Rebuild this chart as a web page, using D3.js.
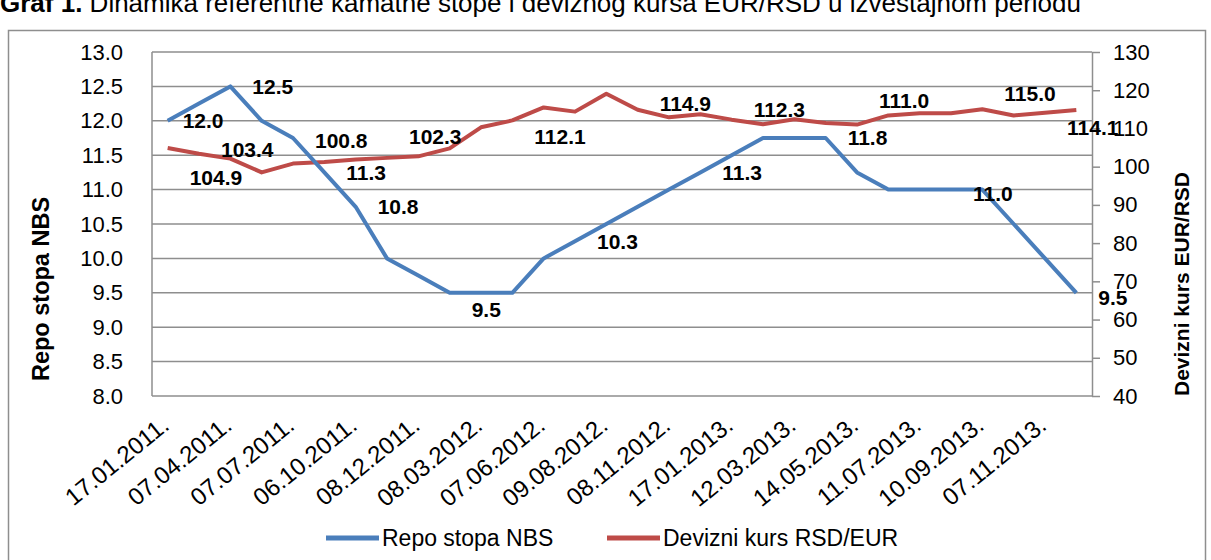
<!DOCTYPE html>
<meta charset="utf-8">
<style>
body { margin: 0; background: #fff; }
svg text { font-family: "Liberation Sans", Arial, sans-serif; fill: #000; }
.grid line { stroke: #8e8e8e; stroke-width: 1.5px; }
.axis path, .axis line { stroke: #8e8e8e; stroke-width: 1.5px; }
.axis text { font-size: 22px; }
.line { fill: none; stroke-width: 4px; stroke-linejoin: round; }
.lbl { font-size: 21px; font-weight: bold; }
</style>
<svg width="1211" height="560"></svg>
<script src="https://d3js.org/d3.v7.min.js"></script>
<script>

// dates of the observations (only every other one is written on the axis)
var dates = [
  "17.01.2011.", "10.02.2011.", "07.04.2011.", "09.06.2011.", "07.07.2011.",
  "11.08.2011.", "06.10.2011.", "10.11.2011.", "08.12.2011.", "12.01.2012.",
  "08.03.2012.", "10.05.2012.", "07.06.2012.", "12.07.2012.", "09.08.2012.",
  "11.10.2012.", "08.11.2012.", "13.12.2012.", "17.01.2013.", "07.02.2013.",
  "12.03.2013.", "09.04.2013.", "14.05.2013.", "06.06.2013.", "11.07.2013.",
  "08.08.2013.", "10.09.2013.", "10.10.2013.", "07.11.2013.", "10.12.2013."
];

// repo stopa NBS (%)
var repo = [12.0, 12.25, 12.5, 12.0, 11.75, 11.25, 10.75, 10.0, 9.75, 9.5,
            9.5, 9.5, 10.0, 10.25, 10.5, 10.75, 11.0, 11.25, 11.5, 11.75,
            11.75, 11.75, 11.25, 11.0, 11.0, 11.0, 11.0, 10.5, 10.0, 9.5];

// devizni kurs RSD/EUR
var kurs = [104.9, 103.4, 102.1, 98.5, 100.8, 101.2, 101.9, 102.3, 102.7, 104.8,
            110.3, 112.1, 115.5, 114.4, 119.1, 114.9, 112.9, 113.7, 112.3, 111.1,
            112.4, 111.4, 111.0, 113.4, 114.0, 114.0, 115.0, 113.4, 114.1, 114.8];

// which points carry a value label
var repoLabelIdx = [0, 2, 5, 6, 9, 13, 17, 21, 25, 29];
var kursLabelIdx = [0, 1, 4, 7, 11, 15, 18, 22, 26, 28];

var leftTicks = d3.range(8, 13.001, 0.5);
var rightTicks = d3.range(40, 131, 10);

// label placement tweaks (dy in px from the point)
var repoDy = {0: 0, 9: 17, 25: 4, 29: 5};
var kursDy = {0: 30, 1: -4, 4: -23, 7: -21, 11: 16, 15: -6, 18: -10, 22: -24, 26: -16, 28: 15};

var blue = "#4a7ebb", red = "#be4b48";

var svg = d3.select("svg"),
    plotL = 152, plotR = 1092, plotT = 52, plotB = 396;

var x = d3.scaleBand().domain(d3.range(dates.length)).range([plotL, plotR]),
    cx = function(i) { return x(i) + x.bandwidth() / 2; },
    yL = d3.scaleLinear().domain([8, 13]).range([plotB, plotT]),
    yR = d3.scaleLinear().domain([40, 130]).range([plotB, plotT]);

// title (cut off at the top like in the report)
var title = svg.append("text").attr("x", 0).attr("y", 12).style("font-size", "26px");
title.append("tspan").style("font-weight", "bold").text("Graf 1.");
title.append("tspan").text(" Dinamika referentne kamatne stope i deviznog kursa EUR/RSD u izveštajnom periodu");

// outer frame
svg.append("rect")
    .attr("x", 8.5).attr("y", 30.5).attr("width", 1197).attr("height", 560)
    .attr("fill", "none").attr("stroke", "#8e8e8e").attr("stroke-width", 1.5);

// gridlines
svg.append("g").attr("class", "grid")
  .selectAll("line").data(leftTicks).enter().append("line")
    .attr("x1", plotL).attr("x2", plotR)
    .attr("y1", function(d) { return yL(d); })
    .attr("y2", function(d) { return yL(d); });

// left axis
var ga = svg.append("g").attr("class", "axis")
    .attr("transform", "translate(" + plotL + ",0)")
    .call(d3.axisLeft(yL).tickValues(leftTicks).tickFormat(d3.format(".1f")).tickSize(0).tickPadding(29));
ga.select(".domain").remove();
svg.append("line")
    .attr("x1", plotL).attr("x2", plotL).attr("y1", plotT).attr("y2", plotB)
    .style("stroke", "#8e8e8e").style("stroke-width", 1.5);

// right axis
svg.append("g").attr("class", "axis")
    .attr("transform", "translate(" + plotR + ",0)")
    .call(d3.axisRight(yR).tickValues(rightTicks).tickSize(8).tickSizeOuter(0).tickPadding(13));

// category labels
svg.append("g").selectAll("text")
    .data(dates.map(function(d, i) { return {d: d, i: i}; }).filter(function(o) { return o.i % 2 === 0; }))
  .enter().append("text")
    .attr("transform", function(o) { return "translate(" + (cx(o.i) + 3) + "," + 428 + ") rotate(-39)"; })
    .attr("text-anchor", "end")
    .style("font-size", "24px")
    .text(function(o) { return o.d; });

// axis titles
svg.append("text")
    .attr("transform", "translate(49,289) rotate(-90)")
    .attr("text-anchor", "middle")
    .style("font-size", "23.5px").style("font-weight", "bold")
    .text("Repo stopa NBS");
svg.append("text")
    .attr("transform", "translate(1189,284) rotate(-90)")
    .attr("text-anchor", "middle")
    .style("font-size", "21px").style("font-weight", "bold")
    .text("Devizni kurs EUR/RSD");

// lines
var lineL = d3.line().x(function(d, i) { return cx(i); }).y(function(d) { return yL(d); });
var lineR = d3.line().x(function(d, i) { return cx(i); }).y(function(d) { return yR(d); });

svg.append("path").datum(kurs).attr("class", "line").attr("stroke", red).attr("d", lineR);
svg.append("path").datum(repo).attr("class", "line").attr("stroke", blue).attr("d", lineL);

// value labels
svg.append("g").selectAll("text").data(kursLabelIdx).enter().append("text")
    .attr("class", "lbl")
    .attr("x", function(i) { return cx(i) + 22; })
    .attr("y", function(i) { return yR(kurs[i]) + (kursDy[i] || 0); })
    .attr("dy", "0.35em")
    .text(function(i) { return kurs[i].toFixed(1); });

svg.append("g").selectAll("text").data(repoLabelIdx).enter().append("text")
    .attr("class", "lbl")
    .attr("x", function(i) { return cx(i) + (i === 0 ? 15 : 22); })
    .attr("y", function(i) { return yL(repo[i]) + (repoDy[i] || 0); })
    .attr("dy", "0.35em")
    .text(function(i) { return repo[i].toFixed(1); });

// legend
var legend = [{name: "Repo stopa NBS", color: blue, x: 326}, {name: "Devizni kurs RSD/EUR", color: red, x: 607}];
var lg = svg.append("g").selectAll("g").data(legend).enter().append("g")
    .attr("transform", function(d) { return "translate(" + d.x + ",538)"; });
lg.append("line").attr("x1", 0).attr("x2", 53).attr("y1", 0).attr("y2", 0)
    .attr("stroke", function(d) { return d.color; }).attr("stroke-width", 5);
lg.append("text").attr("x", 56).attr("dy", "0.35em").style("font-size", "23px")
    .text(function(d) { return d.name; });

</script>
